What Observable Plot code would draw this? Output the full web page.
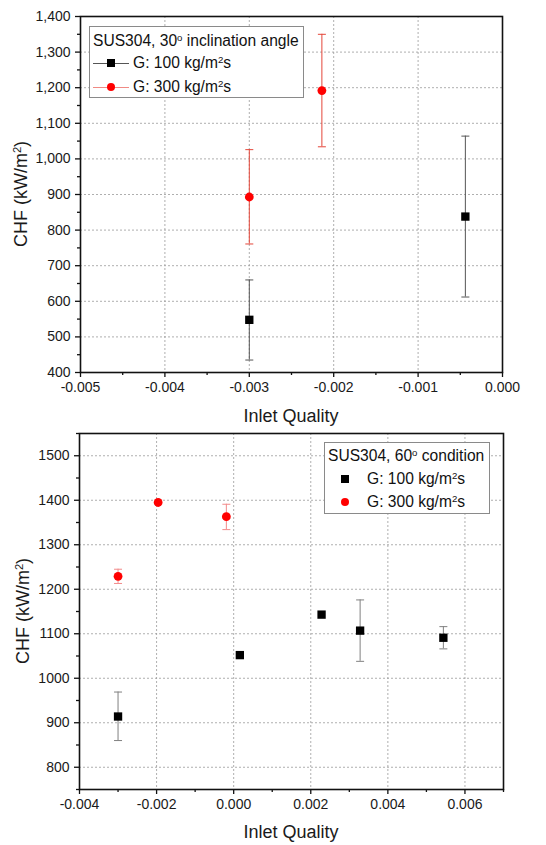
<!DOCTYPE html>
<html><head><meta charset="utf-8">
<script src="https://cdn.jsdelivr.net/npm/d3@7"></script>
<script src="https://cdn.jsdelivr.net/npm/@observablehq/plot@0.6"></script>
<style>
body{margin:0;background:#fff;font-family:"Liberation Sans",Arial,sans-serif;}
#wrap{position:relative;width:546px;height:845px;overflow:hidden;}
#wrap svg{position:absolute;left:0;}
.lbl{position:absolute;font-size:18px;color:#1a1a1a;white-space:nowrap;line-height:20px;}
.legend{position:absolute;background:#fff;border:1px solid #8a8a8a;box-sizing:border-box;font-size:15.6px;color:#111;}
.legend span{position:absolute;white-space:nowrap;line-height:18px;}
.legend div{position:absolute;}
sup{font-size:0.62em;vertical-align:0.55em;line-height:0;}
</style></head><body>
<div id="wrap"></div>
<script>
// ---------- Panel 1: SUS304, 30° inclination angle ----------
const q30_g100   = [-0.0030, -0.00044];
const chf30_g100 = [548, 838];
const lo30_g100  = [435, 612];
const hi30_g100  = [660, 1064];
const q30_g300   = [-0.0030, -0.00214];
const chf30_g300 = [893, 1192];
const lo30_g300  = [761, 1034];
const hi30_g300  = [1026, 1350];
const xTicks30 = [-0.005, -0.004, -0.003, -0.002, -0.001, 0.000];
const yTicks30 = [400, 500, 600, 700, 800, 900, 1000, 1100, 1200, 1300, 1400];

// ---------- Panel 2: SUS304, 60° condition ----------
const q60_g100   = [-0.0030, 0.00016, 0.00228, 0.00328, 0.00544];
const chf60_g100 = [914, 1052, 1143, 1107, 1091];
const lo60_g100  = [860, null, null, 1038, 1066];
const hi60_g100  = [969, null, null, 1176, 1116];
const q60_g300   = [-0.0030, -0.00196, -0.00019];
const chf60_g300 = [1229, 1395, 1363];
const lo60_g300  = [1213, null, 1334];
const hi60_g300  = [1245, null, 1391];
const xTicks60 = [-0.004, -0.002, 0.000, 0.002, 0.004, 0.006];
const yTicks60 = [800, 900, 1000, 1100, 1200, 1300, 1400, 1500];

const toRows = (q, c, lo, hi) => q.map((x, i) => ({q: x, chf: c[i], lo: lo[i], hi: hi[i]}));

const cap = {draw(ctx, size) { const r = Math.sqrt(size / Math.PI); ctx.moveTo(-r, 0); ctx.lineTo(r, 0); }};

function panel(cfg) {
  const s100 = cfg.s100, s300 = cfg.s300;
  const e100 = s100.filter(d => d.lo != null), e300 = s300.filter(d => d.lo != null);
  const marks = [
    Plot.gridX(cfg.xTicks, {stroke: "#9a9a9a", strokeOpacity: 1, strokeDasharray: "2,2", strokeWidth: 0.8}),
    Plot.gridY(cfg.yTicks, {stroke: "#9a9a9a", strokeOpacity: 1, strokeDasharray: "2,2", strokeWidth: 0.8}),
    Plot.ruleX(e100, {x: "q", y1: "lo", y2: "hi", stroke: cfg.err100, strokeWidth: 1}),
    Plot.dot(e100, {x: "q", y: "lo", symbol: cap, r: 4, stroke: cfg.err100, strokeWidth: 1, fill: "none"}),
    Plot.dot(e100, {x: "q", y: "hi", symbol: cap, r: 4, stroke: cfg.err100, strokeWidth: 1, fill: "none"}),
    Plot.ruleX(e300, {x: "q", y1: "lo", y2: "hi", stroke: cfg.err300, strokeWidth: 1}),
    Plot.dot(e300, {x: "q", y: "lo", symbol: cap, r: 4, stroke: cfg.err300, strokeWidth: 1, fill: "none"}),
    Plot.dot(e300, {x: "q", y: "hi", symbol: cap, r: 4, stroke: cfg.err300, strokeWidth: 1, fill: "none"}),
    Plot.dot(s100, {x: "q", y: "chf", symbol: "square", r: 4.7, fill: "#000", stroke: "none"}),
    Plot.dot(s300, {x: "q", y: "chf", symbol: "circle", r: 4.4, fill: "#ff0000", stroke: "none"}),
    Plot.frame({stroke: "#111", strokeWidth: 1.6}),
    Plot.axisX(cfg.xTicks, {tickSize: 5, tickPadding: 5, tickFormat: d => d.toFixed(3), label: null, fontSize: 14, stroke: "#111", strokeWidth: 1.3}),
    Plot.axisX(cfg.xMinor, {tickSize: 3, tickFormat: () => "", label: null, stroke: "#111", strokeWidth: 1.3}),
    Plot.axisY(cfg.yTicks, {tickSize: 5, tickPadding: 5, tickFormat: cfg.yFmt, label: null, fontSize: 14, stroke: "#111", strokeWidth: 1.3}),
    Plot.axisY(cfg.yMinor, {tickSize: 3, tickFormat: () => "", label: null, stroke: "#111", strokeWidth: 1.3})
  ];
  const svg = Plot.plot({
    width: 546, height: cfg.height,
    marginLeft: cfg.ml, marginRight: cfg.mr, marginTop: cfg.mt, marginBottom: cfg.mb,
    x: {domain: cfg.xDomain},
    y: {domain: cfg.yDomain},
    style: {fontFamily: '"Liberation Sans", Arial, sans-serif', fontSize: "14px", color: "#1a1a1a", background: "transparent", overflow: "visible"},
    marks
  });
  svg.style.top = cfg.top + "px";
  return svg;
}

const wrap = document.getElementById("wrap");

wrap.appendChild(panel({
  top: 0, height: 425, ml: 80, mr: 44, mt: 16, mb: 53,
  xDomain: [-0.005, 0], yDomain: [400, 1400],
  xTicks: xTicks30, yTicks: yTicks30,
  xMinor: d3.range(-0.0045, 0, 0.001), yMinor: d3.range(450, 1400, 100),
  yFmt: d => d3.format(",")(d),
  s100: toRows(q30_g100, chf30_g100, lo30_g100, hi30_g100),
  s300: toRows(q30_g300, chf30_g300, lo30_g300, hi30_g300),
  err100: "#555", err300: "#e4463a"
}));

wrap.appendChild(panel({
  top: 425, height: 420, ml: 79, mr: 43, mt: 8, mb: 56,
  xDomain: [-0.004, 0.007], yDomain: [750, 1550],
  xTicks: xTicks60, yTicks: yTicks60,
  xMinor: d3.range(-0.003, 0.0071, 0.002), yMinor: d3.range(750, 1551, 100),
  yFmt: d => String(d),
  s100: toRows(q60_g100, chf60_g100, lo60_g100, hi60_g100),
  s300: toRows(q60_g300, chf60_g300, lo60_g300, hi60_g300),
  err100: "#808080", err300: "#f28a8a"
}));

// axis titles
function addLabel(html, cx, cy, rotate) {
  const el = document.createElement("div");
  el.className = "lbl";
  el.innerHTML = html;
  wrap.appendChild(el);
  const w = el.offsetWidth, h = el.offsetHeight;
  el.style.left = (cx - w / 2) + "px";
  el.style.top = (cy - h / 2) + "px";
  if (rotate) el.style.transform = "rotate(-90deg)";
}
addLabel("CHF (kW/m<sup>2</sup>)", 21, 194, true);
addLabel("Inlet Quality", 291, 416, false);
addLabel("CHF (kW/m<sup>2</sup>)", 23, 611, true);
addLabel("Inlet Quality", 291, 832, false);

// legends
function legend(box, title, rows) {
  const lg = document.createElement("div");
  lg.className = "legend";
  Object.assign(lg.style, {left: box.x + "px", top: box.y + "px", width: box.w + "px", height: box.h + "px"});
  let html = `<span style="left:${box.tx}px;top:${box.ty - 9}px">${title}</span>`;
  rows.forEach(r => {
    if (r.line) html += `<div style="left:${r.lx0}px;top:${r.cy - 0.5}px;width:${r.lx1 - r.lx0}px;height:1px;background:${r.line}"></div>`;
    const sz = r.shape === "square" ? 8 : 8.6;
    html += `<div style="left:${r.mx - sz / 2}px;top:${r.cy - sz / 2}px;width:${sz}px;height:${sz}px;background:${r.color};border-radius:${r.shape === "square" ? 0 : 50}%"></div>`;
    html += `<span style="left:${r.textX}px;top:${r.cy - 9}px">${r.text}</span>`;
  });
  lg.innerHTML = html;
  wrap.appendChild(lg);
}
legend({x: 89, y: 26, w: 215, h: 72, tx: 3, ty: 14}, "SUS304, 30<sup>o</sup> inclination angle", [
  {cy: 36, lx0: 3, lx1: 39, line: "#555", mx: 21, shape: "square", color: "#000", textX: 43, text: "G: 100 kg/m<sup>2</sup>s"},
  {cy: 60, lx0: 3, lx1: 39, line: "#f08a84", mx: 21, shape: "circle", color: "#ff0000", textX: 43, text: "G: 300 kg/m<sup>2</sup>s"}
]);
legend({x: 324, y: 442, w: 166, h: 72, tx: 3, ty: 13}, "SUS304, 60<sup>o</sup> condition", [
  {cy: 36, mx: 20, shape: "square", color: "#000", textX: 42, text: "G: 100 kg/m<sup>2</sup>s"},
  {cy: 59, mx: 20, shape: "circle", color: "#ff0000", textX: 42, text: "G: 300 kg/m<sup>2</sup>s"}
]);
</script>
</body></html>
